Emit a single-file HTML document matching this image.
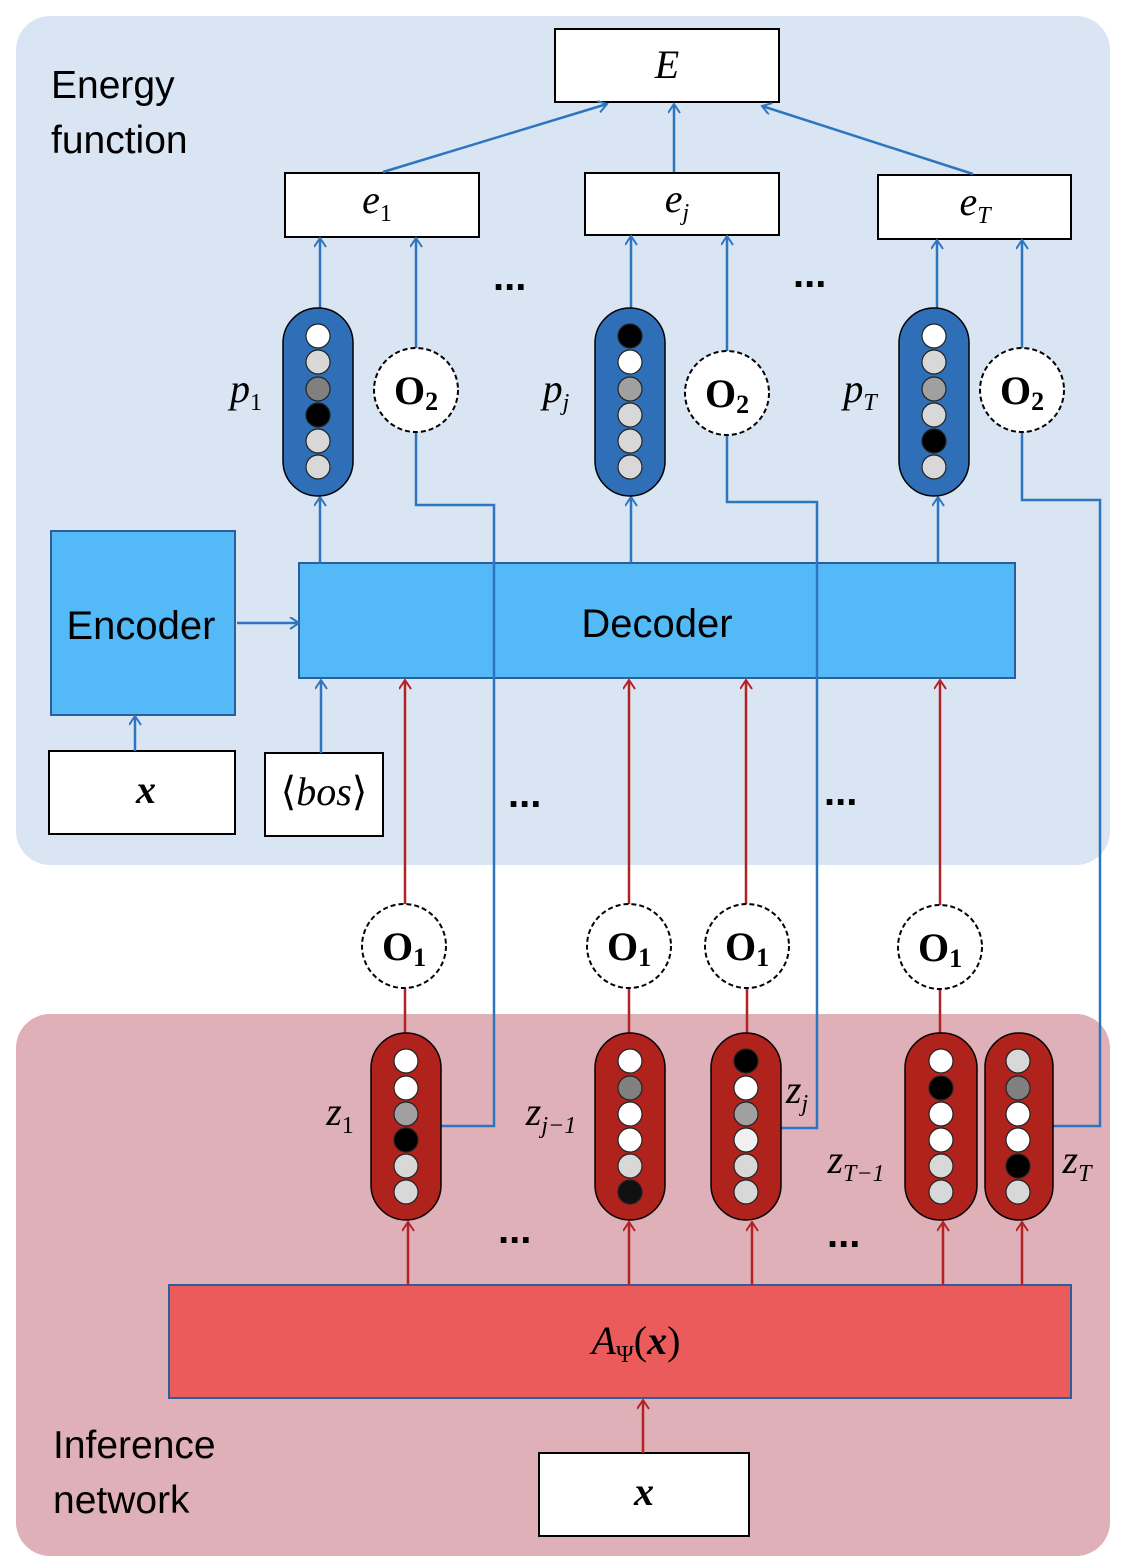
<!DOCTYPE html>
<html><head><meta charset="utf-8"><style>body{margin:0;background:#fff}svg{display:block}</style></head><body>
<svg width="1122" height="1568" viewBox="0 0 1122 1568" xmlns="http://www.w3.org/2000/svg">
<defs>
<marker id="ab" markerWidth="14" markerHeight="14" refX="10" refY="6" orient="auto" markerUnits="userSpaceOnUse"><path d="M1,0 L10,6 L1,12" fill="none" stroke="#2e75c0" stroke-width="2"/></marker>
<marker id="ar" markerWidth="14" markerHeight="14" refX="10" refY="6" orient="auto" markerUnits="userSpaceOnUse"><path d="M1,0 L10,6 L1,12" fill="none" stroke="#b22222" stroke-width="2"/></marker>
</defs>
<rect x="16" y="16" width="1094" height="849" rx="34" fill="#dae5f3"/>
<rect x="16" y="1014" width="1094" height="542" rx="34" fill="#dfb0b8"/>
<g font-family="Liberation Sans, sans-serif" font-size="39" fill="#000">
<text x="51" y="98">Energy</text><text x="51" y="153">function</text>
<text x="53" y="1458">Inference</text><text x="53" y="1513">network</text>
</g>
<g fill="#fff" stroke="#000" stroke-width="2">
<rect x="555" y="29" width="224" height="73"/>
<rect x="285" y="173" width="194" height="64"/>
<rect x="585" y="173" width="194" height="62"/>
<rect x="878" y="175" width="193" height="64"/>
<rect x="49" y="751" width="186" height="83"/>
<rect x="265" y="753" width="118" height="83"/>
<rect x="539" y="1453" width="210" height="83"/>
</g>
<rect x="51" y="531" width="184" height="184" fill="#53b9f7" stroke="#2a5f9c" stroke-width="2"/>
<rect x="299" y="563" width="716" height="115" fill="#53b9f7" stroke="#2a5f9c" stroke-width="2"/>
<rect x="169" y="1285" width="902" height="113" fill="#eb5b5b" stroke="#2a5f9c" stroke-width="2"/>
<g font-family="Liberation Serif, serif" font-style="italic" font-size="40" text-anchor="middle">
<text x="667" y="78">E</text>
<text x="377" y="213">e<tspan font-size="24" font-style="normal" dy="8">1</tspan></text>
<text x="677" y="212">e<tspan font-size="24" dy="8">j</tspan></text>
<text x="975" y="215">e<tspan font-size="24" dy="8">T</tspan></text>
<text x="146" y="803" font-weight="bold">x</text>
<text x="324" y="805"><tspan font-style="normal">⟨</tspan>bos<tspan font-style="normal">⟩</tspan></text>
<text x="644" y="1505" font-weight="bold">x</text>
<text x="636" y="1354">A<tspan font-size="24" font-style="normal" dy="8">Ψ</tspan><tspan dy="-8" font-style="normal">(</tspan><tspan font-weight="bold">x</tspan><tspan font-style="normal">)</tspan></text>
<text x="246" y="402">p<tspan font-size="24" font-style="normal" dy="8">1</tspan></text>
<text x="556" y="402">p<tspan font-size="24" dy="8">j</tspan></text>
<text x="860" y="402">p<tspan font-size="24" dy="8">T</tspan></text>
<text x="340" y="1125">z<tspan font-size="24" font-style="normal" dy="8">1</tspan></text>
<text x="551" y="1125">z<tspan font-size="24" dy="8">j−1</tspan></text>
<text x="797" y="1103">z<tspan font-size="24" dy="8">j</tspan></text>
<text x="856" y="1173">z<tspan font-size="24" dy="8">T−1</tspan></text>
<text x="1077" y="1173">z<tspan font-size="24" dy="8">T</tspan></text>
</g>
<g font-family="Liberation Sans, sans-serif" font-size="40" text-anchor="middle">
<text x="141" y="639">Encoder</text><text x="657" y="637">Decoder</text>
</g>
<g font-family="Liberation Sans, sans-serif" font-size="40" font-weight="bold">
<text x="493" y="290">...</text><text x="793" y="287">...</text>
<text x="508" y="807">...</text><text x="824" y="805">...</text>
<text x="498" y="1243">...</text><text x="827" y="1247">...</text>
</g>
<g stroke="#2e75c0" stroke-width="2.5" fill="none" marker-end="url(#ab)">
<line x1="383" y1="172" x2="607" y2="104"/>
<line x1="674" y1="172" x2="674" y2="104"/>
<line x1="973" y1="174" x2="762" y2="106"/>
<line x1="320" y1="308" x2="320" y2="238"/>
<line x1="416" y1="348" x2="416" y2="238"/>
<line x1="631" y1="308" x2="631" y2="236"/>
<line x1="727" y1="351" x2="727" y2="236"/>
<line x1="937" y1="308" x2="937" y2="240"/>
<line x1="1022" y1="348" x2="1022" y2="240"/>
<line x1="320" y1="563" x2="320" y2="497"/>
<line x1="631" y1="563" x2="631" y2="497"/>
<line x1="938" y1="563" x2="938" y2="497"/>
<line x1="237" y1="623" x2="299" y2="623"/>
<line x1="135" y1="751" x2="135" y2="716"/>
<line x1="321" y1="753" x2="321" y2="680"/>
</g>
<g stroke="#2e75c0" stroke-width="2.5" fill="none">
<polyline points="416,432 416,505 494,505 494,1126 441,1126"/>
<polyline points="727,435 727,502 817,502 817,1128 781,1128"/>
<polyline points="1022,432 1022,500 1100,500 1100,1126 1053,1126"/>
</g>
<g stroke="#b22222" stroke-width="2.5" fill="none" marker-end="url(#ar)">
<line x1="405" y1="905" x2="405" y2="680"/>
<line x1="629" y1="905" x2="629" y2="680"/>
<line x1="746" y1="905" x2="746" y2="680"/>
<line x1="940" y1="905" x2="940" y2="680"/>
<line x1="408" y1="1285" x2="408" y2="1222"/>
<line x1="629" y1="1285" x2="629" y2="1222"/>
<line x1="752" y1="1285" x2="752" y2="1222"/>
<line x1="943" y1="1285" x2="943" y2="1222"/>
<line x1="1022" y1="1285" x2="1022" y2="1222"/>
<line x1="643" y1="1453" x2="643" y2="1400"/>
</g>
<g stroke="#b22222" stroke-width="2.5">
<line x1="405" y1="988" x2="405" y2="1033"/><line x1="629" y1="988" x2="629" y2="1033"/>
<line x1="747" y1="988" x2="747" y2="1033"/><line x1="940" y1="988" x2="940" y2="1033"/>
</g>
<g fill="#fff" stroke="#000" stroke-width="2" stroke-dasharray="5,3">
<circle cx="416" cy="390" r="42"/><circle cx="727" cy="393" r="42"/><circle cx="1022" cy="390" r="42"/>
<circle cx="404" cy="946" r="42"/><circle cx="629" cy="946" r="42"/><circle cx="747" cy="946" r="42"/><circle cx="940" cy="947" r="42"/>
</g>
<g font-family="Liberation Serif, serif" font-weight="bold" font-size="40" text-anchor="middle">
<text x="416" y="404">O<tspan font-size="26" dy="6">2</tspan></text>
<text x="727" y="407">O<tspan font-size="26" dy="6">2</tspan></text>
<text x="1022" y="404">O<tspan font-size="26" dy="6">2</tspan></text>
<text x="404" y="960">O<tspan font-size="26" dy="6">1</tspan></text>
<text x="629" y="960">O<tspan font-size="26" dy="6">1</tspan></text>
<text x="747" y="960">O<tspan font-size="26" dy="6">1</tspan></text>
<text x="940" y="961">O<tspan font-size="26" dy="6">1</tspan></text>
</g>
<g stroke="#000" stroke-width="1.5">
<rect x="283" y="308" width="70" height="188" rx="35" fill="#2e6fb8"/>
<rect x="595" y="308" width="70" height="188" rx="35" fill="#2e6fb8"/>
<rect x="899" y="308" width="70" height="188" rx="35" fill="#2e6fb8"/>
<rect x="371" y="1033" width="70" height="187" rx="35" fill="#b0221c"/>
<rect x="595" y="1033" width="70" height="187" rx="35" fill="#b0221c"/>
<rect x="711" y="1033" width="70" height="187" rx="35" fill="#b0221c"/>
<rect x="905" y="1033" width="72" height="187" rx="35" fill="#b0221c"/>
<rect x="985" y="1033" width="68" height="187" rx="34" fill="#b0221c"/>
</g>
<g stroke="#222" stroke-width="1.2">
<circle cx="318" cy="336" r="12" fill="#fff"/><circle cx="318" cy="362" r="12" fill="#d8d8d8"/><circle cx="318" cy="389" r="12" fill="#808080"/><circle cx="318" cy="415" r="12" fill="#000"/><circle cx="318" cy="441" r="12" fill="#d8d8d8"/><circle cx="318" cy="467" r="12" fill="#d8d8d8"/>
<circle cx="630" cy="336" r="12" fill="#000"/><circle cx="630" cy="362" r="12" fill="#fff"/><circle cx="630" cy="389" r="12" fill="#a0a0a0"/><circle cx="630" cy="415" r="12" fill="#d8d8d8"/><circle cx="630" cy="441" r="12" fill="#d8d8d8"/><circle cx="630" cy="467" r="12" fill="#d8d8d8"/>
<circle cx="934" cy="336" r="12" fill="#fff"/><circle cx="934" cy="362" r="12" fill="#d8d8d8"/><circle cx="934" cy="389" r="12" fill="#a0a0a0"/><circle cx="934" cy="415" r="12" fill="#d8d8d8"/><circle cx="934" cy="441" r="12" fill="#000"/><circle cx="934" cy="467" r="12" fill="#d8d8d8"/>
<circle cx="406" cy="1061" r="12" fill="#fff"/><circle cx="406" cy="1088" r="12" fill="#fff"/><circle cx="406" cy="1114" r="12" fill="#a0a0a0"/><circle cx="406" cy="1140" r="12" fill="#000"/><circle cx="406" cy="1166" r="12" fill="#d8d8d8"/><circle cx="406" cy="1192" r="12" fill="#d8d8d8"/>
<circle cx="630" cy="1061" r="12" fill="#fff"/><circle cx="630" cy="1088" r="12" fill="#808080"/><circle cx="630" cy="1114" r="12" fill="#fff"/><circle cx="630" cy="1140" r="12" fill="#fff"/><circle cx="630" cy="1166" r="12" fill="#d8d8d8"/><circle cx="630" cy="1192" r="12" fill="#111"/>
<circle cx="746" cy="1061" r="12" fill="#000"/><circle cx="746" cy="1088" r="12" fill="#fff"/><circle cx="746" cy="1114" r="12" fill="#a0a0a0"/><circle cx="746" cy="1140" r="12" fill="#f0f0f0"/><circle cx="746" cy="1166" r="12" fill="#d8d8d8"/><circle cx="746" cy="1192" r="12" fill="#d8d8d8"/>
<circle cx="941" cy="1061" r="12" fill="#fff"/><circle cx="941" cy="1088" r="12" fill="#000"/><circle cx="941" cy="1114" r="12" fill="#fff"/><circle cx="941" cy="1140" r="12" fill="#fff"/><circle cx="941" cy="1166" r="12" fill="#d8d8d8"/><circle cx="941" cy="1192" r="12" fill="#d8d8d8"/>
<circle cx="1018" cy="1061" r="12" fill="#d8d8d8"/><circle cx="1018" cy="1088" r="12" fill="#808080"/><circle cx="1018" cy="1114" r="12" fill="#fff"/><circle cx="1018" cy="1140" r="12" fill="#fff"/><circle cx="1018" cy="1166" r="12" fill="#000"/><circle cx="1018" cy="1192" r="12" fill="#d8d8d8"/>
</g>
</svg>
</body></html>
